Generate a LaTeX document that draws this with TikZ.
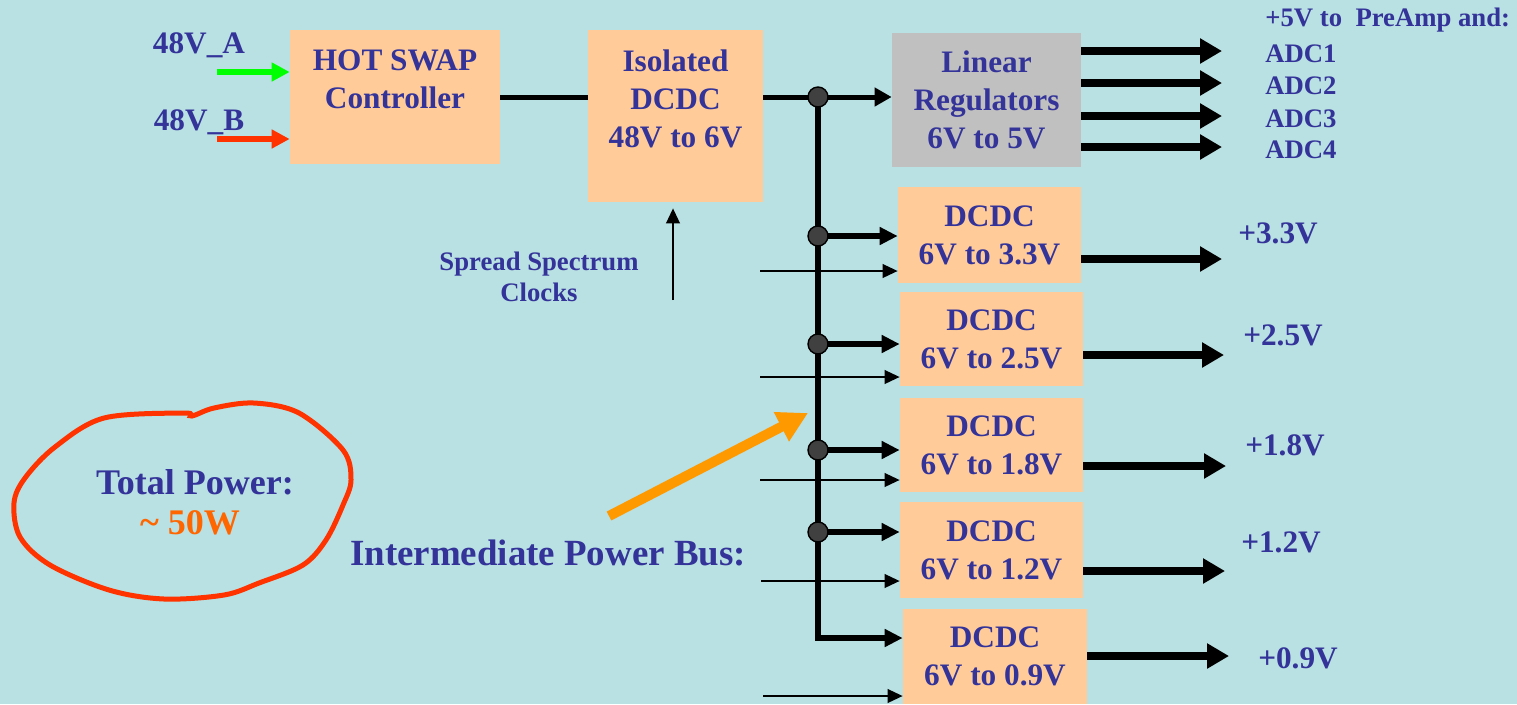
\documentclass[tikz,border=0pt]{standalone}
\usepackage{fontspec}
\setmainfont{Liberation Serif}
\definecolor{bgteal}{RGB}{185,224,226}
\definecolor{boxpeach}{RGB}{255,204,153}
\definecolor{boxgrey}{RGB}{192,192,192}
\definecolor{txtblue}{RGB}{51,51,153}
\definecolor{busorange}{RGB}{255,153,0}
\definecolor{ringred}{RGB}{255,51,0}
\definecolor{wattorange}{RGB}{255,102,0}
\definecolor{feedgreen}{RGB}{0,255,0}
\definecolor{dotgrey}{RGB}{64,64,64}
\usetikzlibrary{
    arrows.meta,
    positioning,
    calc
}

\begin{document}
\begin{tikzpicture}[x=0.02cm, y=-0.02cm,
    blk/.style={fill=boxpeach, inner sep=0pt, text=txtblue, align=center,
        font=\bfseries\fontsize{17.8}{21.6}\selectfont},
    lbl/.style={text=txtblue, inner sep=0pt, align=center,
        font=\bfseries\fontsize{17.8}{21.6}\selectfont},
    small/.style={text=txtblue, inner sep=0pt, align=left,
        font=\bfseries\fontsize{15.2}{17.6}\selectfont},
    feed/.style={line width=0.12cm, -{Triangle[length=0.36cm, width=0.36cm]}},
    conn/.style={line width=0.1cm},
    branch/.style={line width=0.12cm, -{Triangle[length=0.36cm, width=0.34cm]}},
    thinarr/.style={line width=0.045cm, -{Triangle[length=0.3cm, width=0.27cm]}},
    outarr/.style={line width=0.16cm, -{Triangle[length=0.44cm, width=0.48cm]}},
    dot/.style={circle, fill=dotgrey, draw=black, line width=0.8pt,
        minimum size=0.4cm, inner sep=0pt}
]
    % background
    \fill[bgteal] (0,0) rectangle (1517,704);
    \useasboundingbox (0,0) rectangle (1517,704);

    % hot swap and isolated converter
    \node[blk, minimum width=4.2cm, minimum height=2.68cm] (hs) at (395,97) {};
    \node[lbl] (hstxt) at ([yshift=-1.0cm]hs.north) {HOT SWAP\\Controller};
    \node[blk, minimum width=3.5cm, minimum height=3.44cm] (iso) at (675.5,116) {};
    \node[lbl] (isotxt) at ([yshift=-1.38cm]iso.north) {Isolated\\DCDC\\48V to 6V};

    % 48V inputs
    \node[lbl] (ina) at (199,45) {48V\_A};
    \node[lbl] (inb) at (199,122) {48V\_B};
    \coordinate (fa) at (217,72);
    \coordinate (fb) at (217,139);
    \draw[feed, feedgreen] (fa) -- (fa -| hs.west);
    \draw[feed, ringred] (fb) -- (fb -| hs.west);
    \draw[conn] (hs.east) -- (hs.east -| iso.west);

    % spread spectrum clocks
    \node[small, align=center] (clk) at (539,277) {Spread Spectrum\\Clocks};
    \coordinate (ck) at (673,300);
    \draw[thinarr, shorten >=0.12cm] (ck) -- (ck |- iso.south);

    % linear regulators
    \node[blk, fill=boxgrey, minimum width=3.78cm, minimum height=2.68cm] (linreg)
        at (986.5,100) {Linear\\Regulators\\6V to 5V};

    % DCDC converters
    \node[blk, minimum width=3.66cm, minimum height=1.92cm] (dc33) at (989.5,235) {DCDC\\6V to 3.3V};
    \node[blk, minimum width=3.66cm, minimum height=1.88cm] (dc25) at (991.5,339) {DCDC\\6V to 2.5V};
    \node[blk, minimum width=3.66cm, minimum height=1.88cm] (dc18) at (991.5,445) {DCDC\\6V to 1.8V};
    \node[blk, minimum width=3.66cm, minimum height=1.92cm] (dc12) at (991.5,550) {DCDC\\6V to 1.2V};
    \node[blk, minimum width=3.68cm, minimum height=1.9cm] (dc09) at (995,656.5) {DCDC\\6V to 0.9V};

    % intermediate bus
    \coordinate (j0) at (818,97);
    \coordinate (j1) at (818,236);
    \coordinate (j2) at (818,344);
    \coordinate (j3) at (818,450);
    \coordinate (j4) at (818,532);
    \coordinate (jend) at (818,638);
    \draw[thinarr] (760,271) coordinate (t1) -- (t1 -| dc33.west);
    \draw[thinarr] (760,377) coordinate (t2) -- (t2 -| dc25.west);
    \draw[thinarr] (760,480) coordinate (t3) -- (t3 -| dc18.west);
    \draw[thinarr] (761,581) coordinate (t4) -- (t4 -| dc12.west);
    \draw[thinarr] (763,696) coordinate (t5) -- (t5 -| dc09.west);
    \draw[conn, -{Triangle[length=0.34cm, width=0.36cm]}] (iso.east |- j0) -- (linreg.west |- j0);
    \draw[branch] (j0) |- (dc09.west |- jend);
    \draw[branch] (j1) -- (j1 -| dc33.west);
    \draw[branch] (j2) -- (j2 -| dc25.west);
    \draw[branch] (j3) -- (j3 -| dc18.west);
    \draw[branch] (j4) -- (j4 -| dc12.west);
    \foreach \j in {j0,j1,j2,j3,j4}
        \node[dot] at (\j) {};

    % outputs of the linear regulators
    \node[small, anchor=west] (pre) at (1265,20) {+5V to~ PreAmp and:};
    \foreach \n/\y in {1/51,2/83,3/116,4/147} {
        \coordinate (a\n) at (1222,\y);
        \draw[outarr] (a\n -| linreg.east) -- (a\n);
        \node[small, anchor=west] (adc\n) at (1265,\y+3) {ADC\n};
    }

    % outputs of the DCDC converters
    \coordinate (o33) at (1222,259);
    \coordinate (o25) at (1224,355);
    \coordinate (o18) at (1226,466);
    \coordinate (o12) at (1225,571);
    \coordinate (o09) at (1229,656);
    \draw[outarr] (o33 -| dc33.east) -- (o33);
    \draw[outarr] (o25 -| dc25.east) -- (o25);
    \draw[outarr] (o18 -| dc18.east) -- (o18);
    \draw[outarr] (o12 -| dc12.east) -- (o12);
    \draw[outarr] (o09 -| dc09.east) -- (o09);
    \node[lbl] (v33) at (1278,233) {+3.3V};
    \node[lbl] (v25) at (1283,335) {+2.5V};
    \node[lbl] (v18) at (1285,445) {+1.8V};
    \node[lbl] (v12) at (1281,542) {+1.2V};
    \node[lbl] (v09) at (1298,658) {+0.9V};

    % bus pointer
    \node[lbl, font=\bfseries\fontsize{21}{25}\selectfont] (busname) at (548,553) {Intermediate Power Bus:};
    \coordinate (ob) at (609,516);
    \coordinate (obtip) at (808,413);
    \draw[busorange, line width=0.2cm, -{Triangle[length=0.6cm, width=0.62cm]}] (ob) -- (obtip);

    % total power ring
    \draw[ringred, line width=0.1cm] plot[smooth cycle, tension=0.55] coordinates {
        (104,418) (184,413) (192,416) (214,408) (254,403) (299,413) (343,450)
        (351,480) (343,505) (326,540) (303,565) (259,583) (224,595) (164,599)
        (109,590) (50,565) (20,537) (14,503) (25,478) (55,447)};
    \node[lbl, font=\bfseries\fontsize{20.5}{23.3}\selectfont] (tot) at (195,482) {Total Power:};
    \node[lbl, text=wattorange, font=\bfseries\fontsize{20.5}{23.3}\selectfont] (watt) at (190,523) {\textasciitilde\ 50W};
\end{tikzpicture}
\end{document}
